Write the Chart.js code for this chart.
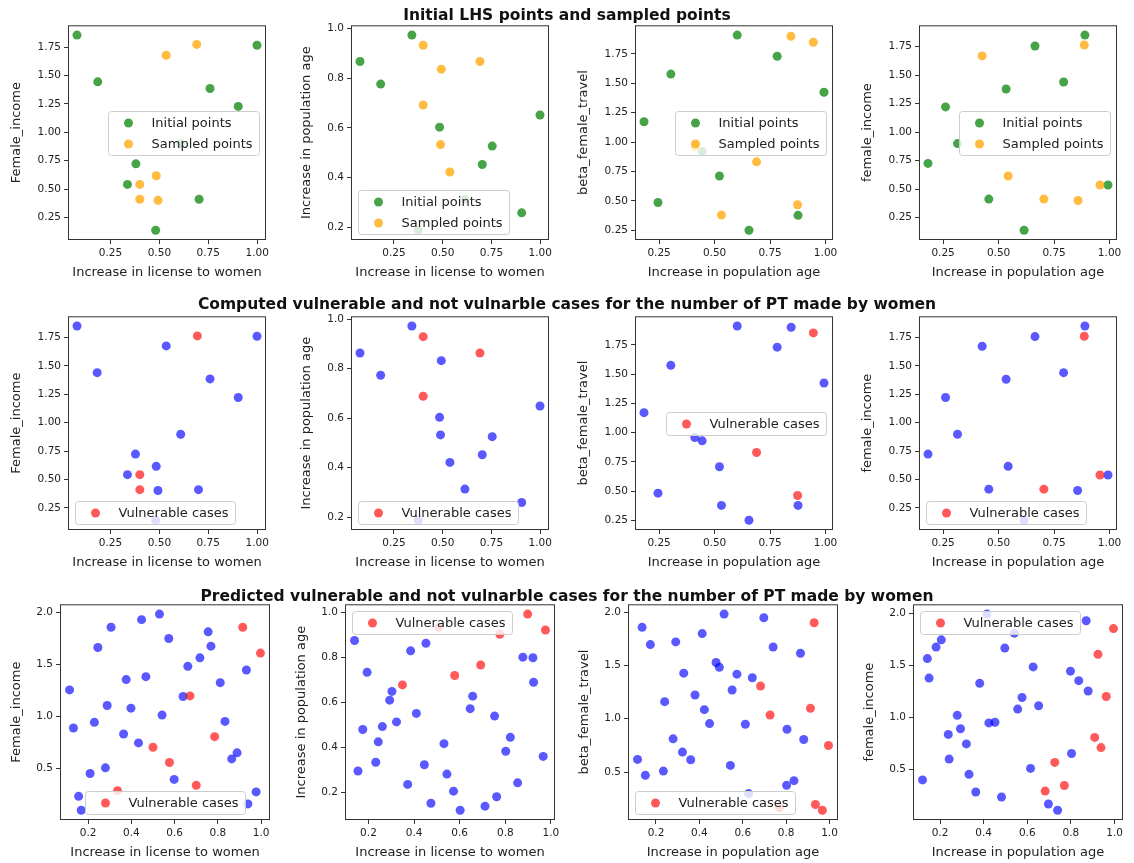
<!DOCTYPE html>
<html>
<head>
<meta charset="utf-8">
<script src="https://cdn.jsdelivr.net/npm/chart.js@4.4.1/dist/chart.umd.min.js"></script>
<style>
  body { margin: 0; background: #fff; }
  #fig { position: relative; width: 1134px; height: 863px; overflow: hidden; font-family: 'DejaVu Sans', sans-serif; }
  .suptitle { position: absolute; left: 0; width: 1134px; text-align: center; font-weight: bold; font-size: 15.5px; line-height: 18px; color: #111; z-index: 2; }
  canvas { position: absolute; }
</style>
</head>
<body>
<div id="fig">
  <div class="suptitle" style="top:6px">Initial LHS points and sampled points</div>
  <div class="suptitle" style="top:295px">Computed vulnerable and not vulnarble cases for the number of PT made by women</div>
  <div class="suptitle" style="top:587px">Predicted vulnerable and not vulnarble cases for the number of PT made by women</div>
</div>
<script>
// axis labels
const labelLicense = "Increase in license to women";
const labelAge = "Increase in population age";
const labelIncome = "Female_income";
const labelIncome2 = "female_income";
const labelBeta = "beta_female_travel";

// tick values
const ticksQuarter = [0.25, 0.5, 0.75, 1.0];
const ticksIncome = [0.25, 0.5, 0.75, 1.0, 1.25, 1.5, 1.75];
const ticksFifth = [0.2, 0.4, 0.6, 0.8, 1.0];
const ticksHalf = [0.5, 1.0, 1.5, 2.0];

// row 1 : initial LHS points / sampled points
const p1Initial = [[0.079,1.855],[0.185,1.444],[0.759,1.385],[0.903,1.228],[0.999,1.765],[0.380,0.723],[0.337,0.542],[0.703,0.411],[0.481,0.139],[0.609,0.899]];
const p1Sampled = [[0.535,1.677],[0.691,1.773],[0.484,0.618],[0.400,0.542],[0.400,0.411],[0.493,0.402]];
const p2Initial = [[0.076,0.867],[0.182,0.776],[0.342,0.973],[0.484,0.603],[0.754,0.527],[0.703,0.453],[0.999,0.652],[0.905,0.259],[0.375,0.189],[0.614,0.313]];
const p2Sampled = [[0.400,0.932],[0.493,0.836],[0.691,0.867],[0.400,0.692],[0.489,0.533],[0.537,0.423]];
const p3Initial = [[0.182,1.173],[0.245,0.486],[0.303,1.578],[0.522,0.711],[0.602,1.910],[0.655,0.250],[0.782,1.730],[0.876,0.377],[0.993,1.424],[0.444,0.920]];
const p3Sampled = [[0.844,1.899],[0.945,1.849],[0.689,0.832],[0.874,0.467],[0.531,0.379],[0.411,0.957]];
const p4Initial = [[0.182,0.726],[0.261,1.222],[0.315,0.900],[0.456,0.413],[0.534,1.379],[0.615,0.140],[0.664,1.756],[0.793,1.440],[0.889,1.852],[0.993,0.537]];
const p4Sampled = [[0.426,1.669],[0.886,1.765],[0.543,0.616],[0.704,0.413],[0.858,0.401],[0.957,0.537]];

// row 2 : computed cases
const p5Safe = [[0.079,1.852],[0.182,1.441],[0.535,1.677],[0.759,1.386],[0.903,1.222],[0.999,1.762],[0.609,0.899],[0.378,0.724],[0.484,0.616],[0.337,0.543],[0.493,0.403],[0.700,0.411],[0.481,0.141]];
const p5Vuln = [[0.694,1.765],[0.400,0.543],[0.400,0.411]];
const p6Safe = [[0.076,0.863],[0.182,0.773],[0.342,0.972],[0.493,0.832],[0.484,0.603],[0.489,0.532],[0.537,0.421],[0.614,0.313],[0.703,0.452],[0.754,0.525],[0.999,0.649],[0.905,0.259],[0.375,0.187]];
const p6Vuln = [[0.400,0.929],[0.691,0.863],[0.400,0.688]];
const p7Safe = [[0.182,1.170],[0.245,0.482],[0.303,1.575],[0.411,0.957],[0.444,0.929],[0.522,0.708],[0.531,0.377],[0.602,1.911],[0.655,0.250],[0.782,1.730],[0.845,1.900],[0.876,0.377],[0.993,1.424]];
const p7Vuln = [[0.945,1.852],[0.689,0.830],[0.874,0.462]];
const p8Safe = [[0.182,0.724],[0.261,1.222],[0.315,0.899],[0.426,1.674],[0.456,0.415],[0.534,1.383],[0.543,0.616],[0.664,1.759],[0.793,1.441],[0.889,1.852],[0.856,0.403],[0.993,0.540],[0.615,0.141]];
const p8Vuln = [[0.886,1.762],[0.704,0.415],[0.957,0.540]];

// row 3 : predicted cases
const p9Safe = [[0.114,1.253],[0.132,0.888],[0.156,0.233],[0.168,0.10],[0.209,0.452],[0.229,0.942],[0.245,1.66],[0.280,0.506],[0.288,1.104],[0.306,1.854],[0.364,0.83],[0.376,1.352],[0.398,1.078],[0.433,0.745],[0.447,1.927],[0.467,1.38],[0.530,1.98],[0.542,1.012],[0.573,1.746],[0.598,0.395],[0.639,1.19],[0.661,1.479],[0.717,1.561],[0.755,1.81],[0.768,1.673],[0.811,1.323],[0.833,0.951],[0.864,0.592],[0.889,0.65],[0.932,1.444],[0.939,0.16],[0.977,0.275]];
const p9Vuln = [[0.50,0.704],[0.576,0.557],[0.671,1.196],[0.70,0.338],[0.785,0.805],[0.915,1.854],[0.997,1.606],[0.336,0.287]];
const p10Safe = [[0.139,0.876],[0.194,0.734],[0.154,0.294],[0.175,0.479],[0.232,0.333],[0.243,0.424],[0.261,0.492],[0.293,0.610],[0.303,0.649],[0.323,0.513],[0.372,0.234],[0.385,0.830],[0.41,0.551],[0.445,0.322],[0.452,0.864],[0.474,0.150],[0.531,0.416],[0.544,0.280],[0.573,0.204],[0.602,0.119],[0.646,0.572],[0.657,0.628],[0.711,0.137],[0.753,0.539],[0.762,0.179],[0.802,0.382],[0.822,0.444],[0.854,0.241],[0.877,0.802],[0.921,0.799],[0.924,0.690],[0.966,0.359]];
const p10Vuln = [[0.349,0.678],[0.578,0.720],[0.692,0.767],[0.898,0.994],[0.976,0.923],[0.508,0.935],[0.776,0.904]];
const p11Safe = [[0.115,0.618],[0.136,1.857],[0.151,0.469],[0.174,1.695],[0.234,0.509],[0.240,1.160],[0.279,0.811],[0.291,1.720],[0.322,0.687],[0.328,1.427],[0.360,0.615],[0.380,1.222],[0.413,1.798],[0.423,1.085],[0.447,0.954],[0.477,1.527],[0.492,1.483],[0.514,1.981],[0.543,0.562],[0.551,1.269],[0.573,1.418],[0.612,0.948],[0.644,1.384],[0.697,1.947],[0.740,1.673],[0.802,0.375],[0.804,0.901],[0.836,0.419],[0.866,1.614],[0.881,0.805],[0.627,0.298]];
const p11Vuln = [[0.682,1.306],[0.726,1.035],[0.912,1.097],[0.929,1.900],[0.995,0.749],[0.935,0.195],[0.967,0.142],[0.769,0.164]];
const p12Safe = [[0.120,0.395],[0.142,1.565],[0.15,1.377],[0.182,1.676],[0.206,1.746],[0.238,0.834],[0.242,0.596],[0.279,1.018],[0.294,0.888],[0.321,0.742],[0.333,0.449],[0.364,0.278],[0.382,1.326],[0.424,0.945],[0.452,0.951],[0.482,0.230],[0.497,1.666],[0.556,1.078],[0.576,1.190],[0.615,0.506],[0.627,1.485],[0.652,1.110],[0.697,0.163],[0.739,0.103],[0.798,1.444],[0.803,0.650],[0.836,1.352],[0.879,1.253],[0.870,1.930],[0.415,1.994],[0.541,1.81]];
const p12Vuln = [[0.682,0.287],[0.726,0.564],[0.770,0.341],[0.909,0.805],[0.938,0.707],[0.924,1.606],[0.962,1.199],[0.995,1.854]];

const green = 'rgba(0,128,0,0.72)';
const orange = 'rgba(255,165,0,0.75)';
const blue = 'rgba(0,0,255,0.65)';
const red = 'rgba(255,0,0,0.65)';
const FONT = "'DejaVu Sans'";

const panels = [
  {row:0, col:0, xl:labelLicense, yl:labelIncome, xt:ticksQuarter, yt:ticksIncome, loc:'center right', s:[[p1Initial,'Initial points',green],[p1Sampled,'Sampled points',orange]]},
  {row:0, col:1, xl:labelLicense, yl:labelAge, xt:ticksQuarter, yt:ticksFifth, loc:'lower left', s:[[p2Initial,'Initial points',green],[p2Sampled,'Sampled points',orange]]},
  {row:0, col:2, xl:labelAge, yl:labelBeta, xt:ticksQuarter, yt:ticksIncome, loc:'center right', s:[[p3Initial,'Initial points',green],[p3Sampled,'Sampled points',orange]]},
  {row:0, col:3, xl:labelAge, yl:labelIncome2, xt:ticksQuarter, yt:ticksIncome, loc:'center right', s:[[p4Initial,'Initial points',green],[p4Sampled,'Sampled points',orange]]},
  {row:1, col:0, xl:labelLicense, yl:labelIncome, xt:ticksQuarter, yt:ticksIncome, loc:'lower left', s:[[p5Safe,null,blue],[p5Vuln,'Vulnerable cases',red]]},
  {row:1, col:1, xl:labelLicense, yl:labelAge, xt:ticksQuarter, yt:ticksFifth, loc:'lower left', s:[[p6Safe,null,blue],[p6Vuln,'Vulnerable cases',red]]},
  {row:1, col:2, xl:labelAge, yl:labelBeta, xt:ticksQuarter, yt:ticksIncome, loc:'center right', s:[[p7Safe,null,blue],[p7Vuln,'Vulnerable cases',red]]},
  {row:1, col:3, xl:labelAge, yl:labelIncome2, xt:ticksQuarter, yt:ticksIncome, loc:'lower left', s:[[p8Safe,null,blue],[p8Vuln,'Vulnerable cases',red]]},
  {row:2, col:0, xl:labelLicense, yl:labelIncome, xt:ticksFifth, yt:ticksHalf, loc:'lower center', s:[[p9Safe,null,blue],[p9Vuln,'Vulnerable cases',red]]},
  {row:2, col:1, xl:labelLicense, yl:labelAge, xt:ticksFifth, yt:ticksFifth, loc:'upper left', s:[[p10Safe,null,blue],[p10Vuln,'Vulnerable cases',red]]},
  {row:2, col:2, xl:labelAge, yl:labelBeta, xt:ticksFifth, yt:ticksHalf, loc:'lower left', s:[[p11Safe,null,blue],[p11Vuln,'Vulnerable cases',red]]},
  {row:2, col:3, xl:labelAge, yl:labelIncome2, xt:ticksFifth, yt:ticksHalf, loc:'upper left', s:[[p12Safe,null,blue],[p12Vuln,'Vulnerable cases',red]]}
];

// frame (4 spines) and a matplotlib-like legend drawn inside the axes
const axesDeco = {
  id: 'axesDeco',
  afterDraw(chart, args, opts) {
    const ctx = chart.ctx, a = chart.chartArea;
    const items = opts.items || [];
    ctx.save();
    if (items.length) {
      ctx.font = "13px " + FONT;
      const tw = Math.max(...items.map(it => ctx.measureText(it.label).width));
      const bw = 43 + tw + 7, bh = 23 + 21 * (items.length - 1);
      let bx = a.left + 6.5, by = a.bottom - 6.5 - bh;
      if (opts.loc === 'center right') { bx = a.right - 6.5 - bw; by = (a.top + a.bottom) / 2 - bh / 2; }
      if (opts.loc === 'upper left') { by = a.top + 6.5; }
      if (opts.loc === 'lower center') { bx = (a.left + a.right) / 2 - bw / 2; }
      bx = Math.round(bx) + 0.5; by = Math.round(by) + 0.5;
      ctx.beginPath();
      ctx.roundRect(bx, by, Math.round(bw), Math.round(bh), 3);
      ctx.fillStyle = 'rgba(255,255,255,0.8)';
      ctx.fill();
      ctx.strokeStyle = '#cccccc';
      ctx.lineWidth = 1;
      ctx.stroke();
      items.forEach((it, i) => {
        const cy = by + 11.5 + 21 * i;
        ctx.beginPath();
        ctx.arc(bx + 20, cy, 4.5, 0, Math.PI * 2);
        ctx.fillStyle = it.color;
        ctx.fill();
        ctx.fillStyle = '#222';
        ctx.textBaseline = 'middle';
        ctx.textAlign = 'left';
        ctx.fillText(it.label, bx + 43, cy + 0.5);
      });
    }
    ctx.strokeStyle = '#333';
    ctx.lineWidth = 1;
    ctx.strokeRect(a.left + 0.5, a.top + 0.5, a.right - a.left - 1, a.bottom - a.top - 1);
    ctx.restore();
  }
};

function limits(values) {
  const lo = Math.min(...values), hi = Math.max(...values);
  const m = (hi - lo) * 0.05;
  return [lo - m, hi + m];
}

function decimals(ticks) {
  return ticks.some(v => Math.abs(v * 10 - Math.round(v * 10)) > 1e-9) ? 2 : 1;
}

function buildPanel(p) {
  const rowBox = [[24, 240], [315, 530], [603, 820]];
  const lefts = p.row < 2 ? [68, 351, 635, 919] : [60, 345, 628, 913];
  const w = p.row < 2 ? 198 : 210;
  const [top, bottom] = rowBox[p.row];
  const left = lefts[p.col];
  let yOff = p.row < 2 ? (decimals(p.yt) === 2 ? 51 : 44) : 43;
  const wy = yOff + 8, hx = 40, padT = 8, padR = 16;

  const canvas = document.createElement('canvas');
  canvas.width = wy + w + padR;
  canvas.height = padT + (bottom - top) + hx;
  canvas.style.left = (left - wy) + 'px';
  canvas.style.top = (top - padT) + 'px';
  document.getElementById('fig').appendChild(canvas);

  const all = p.s.flatMap(s => s[0]);
  const [xmin, xmax] = limits(all.map(d => d[0]));
  const [ymin, ymax] = limits(all.map(d => d[1]));
  const xd = decimals(p.xt), yd = decimals(p.yt);

  const datasets = p.s.map((s, i) => ({
    data: s[0].map(d => ({x: d[0], y: d[1]})),
    backgroundColor: s[2],
    borderWidth: 0,
    pointRadius: 4.5,
    pointHoverRadius: 4.5,
    order: p.s.length - i
  }));

  const tickFont = {family: FONT, size: 10.5};
  const titleFont = {family: FONT, size: 13};
  const axisCommon = {
    type: 'linear',
    grid: {display: true, drawOnChartArea: false, drawTicks: true, tickLength: 4, color: '#333', tickColor: '#333'},
    border: {display: false}
  };

  new Chart(canvas, {
    type: 'scatter',
    data: {datasets: datasets},
    options: {
      responsive: false,
      animation: false,
      devicePixelRatio: 1,
      layout: {padding: {left: 0, top: padT, right: padR, bottom: 0}},
      plugins: {
        legend: {display: false},
        tooltip: {enabled: false},
        axesDeco: {loc: p.loc, items: p.s.filter(s => s[1]).map(s => ({label: s[1], color: s[2]}))}
      },
      scales: {
        x: Object.assign({}, axisCommon, {
          min: xmin, max: xmax,
          afterBuildTicks: s => { s.ticks = p.xt.map(v => ({value: v})); },
          afterFit: s => { s.height = hx; },
          ticks: {callback: v => Number(v).toFixed(xd), font: tickFont, color: '#222', padding: 3, maxRotation: 0, autoSkip: false},
          title: {display: true, text: p.xl, font: titleFont, color: '#222', padding: {top: 0, bottom: 0}}
        }),
        y: Object.assign({}, axisCommon, {
          min: ymin, max: ymax,
          afterBuildTicks: s => { s.ticks = p.yt.map(v => ({value: v})); },
          afterFit: s => { s.width = wy; },
          ticks: {callback: v => Number(v).toFixed(yd), font: tickFont, color: '#222', padding: 3, autoSkip: false},
          title: {display: true, text: p.yl, font: titleFont, color: '#222', padding: {top: 0, bottom: 0}}
        })
      }
    },
    plugins: [axesDeco]
  });
}

panels.forEach(buildPanel);
</script>
</body>
</html>
